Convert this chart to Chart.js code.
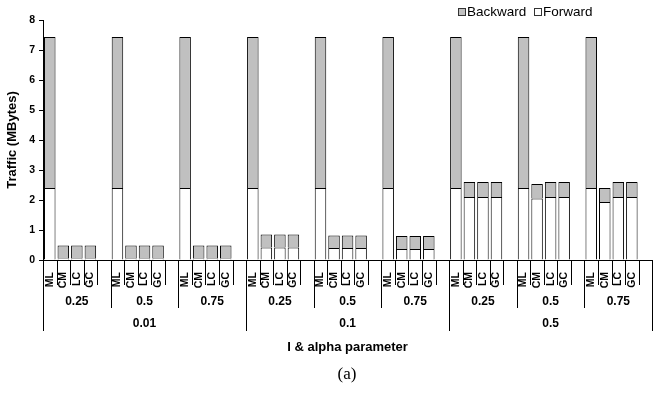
<!DOCTYPE html>
<html>
<head>
<meta charset="utf-8">
<script src="https://cdn.jsdelivr.net/npm/chart.js@4"></script>
<style>
  html, body { margin: 0; padding: 0; overflow: hidden; background: #fff; }
  #wrap { position: relative; width: 662px; height: 409px; }
</style>
</head>
<body>
<div id="wrap"><canvas id="c"></canvas></div>
<script>
// ---- data ----
const iLevels = ['0.01', '0.1', '0.5'];          // outer grouping ("I")
const alphaLevels = ['0.25', '0.5', '0.75'];     // inner grouping (alpha)
const methods = ['ML', 'CM', 'LC', 'GC'];
// Forward traffic (MBytes), 9 groups x 4 methods
const forward = [
  2.40, 0.05, 0.05, 0.05,
  2.40, 0.05, 0.05, 0.05,
  2.40, 0.05, 0.05, 0.05,
  2.40, 0.42, 0.42, 0.42,
  2.40, 0.40, 0.40, 0.40,
  2.40, 0.37, 0.37, 0.37,
  2.40, 2.10, 2.10, 2.10,
  2.40, 2.05, 2.10, 2.10,
  2.40, 1.93, 2.10, 2.10
];
// Backward traffic (MBytes)
const backward = [
  5.03, 0.43, 0.43, 0.43,
  5.03, 0.43, 0.43, 0.43,
  5.03, 0.43, 0.43, 0.43,
  5.03, 0.43, 0.43, 0.43,
  5.03, 0.42, 0.42, 0.42,
  5.03, 0.43, 0.43, 0.43,
  5.03, 0.50, 0.50, 0.50,
  5.03, 0.48, 0.50, 0.50,
  5.03, 0.47, 0.50, 0.50
];
const yTicks = [0, 1, 2, 3, 4, 5, 6, 7, 8];

// ---- build category table (each group = 4 methods + 1 empty slot) ----
const SLOTS = methods.length + 1;
const labels = [], fwdData = [], bwdData = [];
let k = 0;
for (let g = 0; g < iLevels.length * alphaLevels.length; g++) {
  for (let m = 0; m < methods.length; m++) {
    labels.push(methods[m]);
    fwdData.push(forward[k]);
    bwdData.push(backward[k]);
    k++;
  }
  labels.push('');
  fwdData.push(null);
  bwdData.push(null);
}

const FONT = "'Liberation Sans', Arial, sans-serif";

const groupPlugin = {
  id: 'groups',
  afterDraw(chart) {
    const ctx = chart.ctx;
    const x = chart.scales.x;
    const area = chart.chartArea;
    const n = labels.length;
    const w = x.width / n;
    const y0 = area.bottom;
    ctx.save();
    ctx.strokeStyle = '#000';
    ctx.lineWidth = 1;
    for (let i = 0; i <= n; i++) {
      const bx = Math.round(x.getPixelForValue(Math.min(i, n - 1)) + (i === n ? w / 2 : -w / 2)) + 0.5;
      let len = 25;
      if (i % (SLOTS * alphaLevels.length) === 0) len = 71;
      else if (i % SLOTS === 0) len = 48;
      ctx.beginPath();
      ctx.moveTo(bx, y0);
      ctx.lineTo(bx, y0 + len);
      ctx.stroke();
    }
    ctx.fillStyle = '#000';
    ctx.textAlign = 'center';
    ctx.textBaseline = 'middle';
    // inner group labels
    ctx.font = 'bold 12px ' + FONT;
    for (let g = 0; g < iLevels.length * alphaLevels.length; g++) {
      const cx = x.getPixelForValue(g * SLOTS) - w / 2 + SLOTS * w / 2;
      ctx.fillText(alphaLevels[g % alphaLevels.length], cx, y0 + 42);
    }
    // outer group labels
    const outerSpan = SLOTS * alphaLevels.length;
    for (let o = 0; o < iLevels.length; o++) {
      const cx = x.getPixelForValue(o * outerSpan) - w / 2 + outerSpan * w / 2;
      ctx.fillText(iLevels[o], cx, y0 + 64);
    }
    // axis title
    ctx.font = 'bold 13px ' + FONT;
    ctx.fillText('I & alpha parameter', (area.left + area.right) / 2, y0 + 87);
    // caption
    ctx.font = "17px 'Liberation Serif', 'Times New Roman', serif";
    ctx.fillText('(a)', 347, 375);
    // legend
    ctx.font = '13.5px ' + FONT;
    ctx.textAlign = 'left';
    const items = [
      { t: 'Backward', c: '#C0C0C0', x: 458 },
      { t: 'Forward', c: '#FFFFFF', x: 534 }
    ];
    items.forEach(it => {
      ctx.fillStyle = it.c;
      ctx.fillRect(it.x + 0.5, 8.5, 7, 7);
      ctx.strokeStyle = '#333';
      ctx.strokeRect(it.x + 0.5, 8.5, 7, 7);
      ctx.fillStyle = '#000';
      ctx.fillText(it.t, it.x + 9, 12.5);
    });
    ctx.restore();
  }
};

new Chart(document.getElementById('c'), {
  type: 'bar',
  data: {
    labels: labels,
    datasets: [
      {
        label: 'Forward',
        data: fwdData,
        backgroundColor: '#FFFFFF',
        borderColor: '#000000',
        borderWidth: 1,
        categoryPercentage: 0.85,
        barPercentage: 1.0
      },
      {
        label: 'Backward',
        data: bwdData,
        backgroundColor: '#C0C0C0',
        borderColor: '#000000',
        borderWidth: 1,
        categoryPercentage: 0.85,
        barPercentage: 1.0
      }
    ]
  },
  options: {
    responsive: true,
    maintainAspectRatio: false,
    animation: false,
    layout: { padding: { top: 20, right: 2, left: 0, bottom: 0 } },
    plugins: {
      legend: { display: false },
      tooltip: { enabled: false }
    },
    scales: {
      x: {
        stacked: true,
        grid: { display: false },
        border: { display: true, color: '#000', width: 1 },
        ticks: {
          autoSkip: false,
          minRotation: 90,
          maxRotation: 90,
          padding: 4,
          color: '#000',
          font: { family: FONT, size: 10.5, weight: 'bold' }
        },
        afterFit(scale) { scale.height = 149; }
      },
      y: {
        stacked: true,
        min: yTicks[0],
        max: yTicks[yTicks.length - 1],
        afterBuildTicks(scale) { scale.ticks = yTicks.map(v => ({ value: v })); },
        grid: { drawOnChartArea: false, tickLength: 4, color: '#000' },
        border: { display: true, color: '#000', width: 1 },
        ticks: {
          padding: 4,
          color: '#000',
          font: { family: FONT, size: 10.5, weight: 'bold' }
        },
        title: {
          display: true,
          text: 'Traffic (MBytes)',
          color: '#000',
          padding: { top: 5, bottom: 0 },
          font: { family: FONT, size: 13, weight: 'bold' }
        },
        afterFit(scale) { scale.width = 43; }
      }
    }
  },
  plugins: [groupPlugin]
});
</script>
</body>
</html>
